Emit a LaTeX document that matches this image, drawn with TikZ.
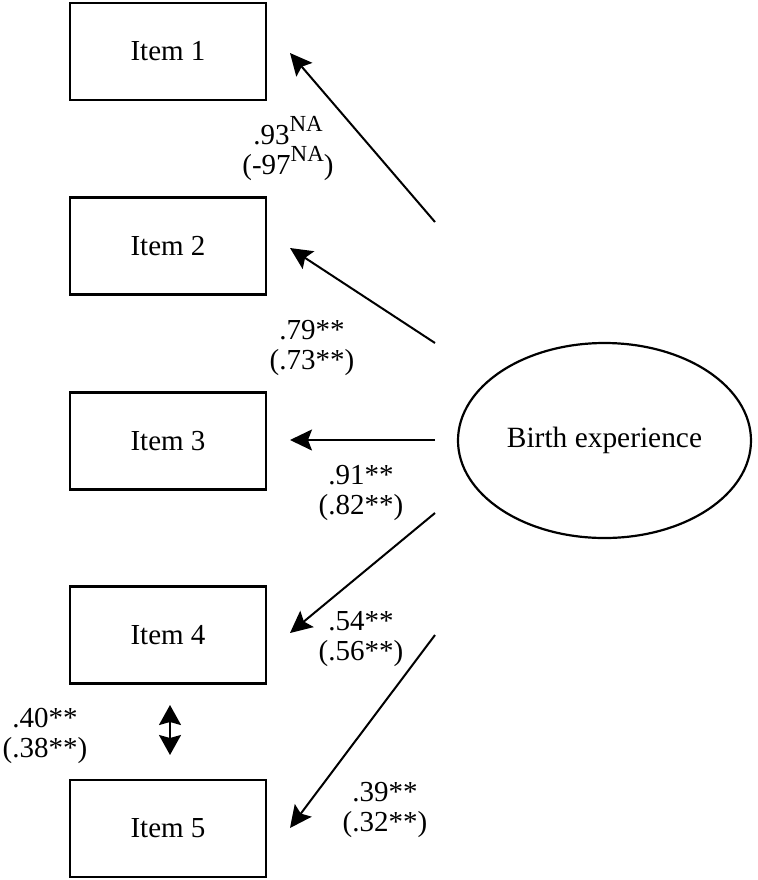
\documentclass[tikz,border=0pt]{standalone}
\usepackage{fontspec}
\setmainfont{Liberation Serif}
\usetikzlibrary{arrows.meta,shapes.geometric}
\newcommand{\nasup}{\raisebox{0.42em}{\fontsize{11.5}{11.5}\selectfont NA}}
\begin{document}
\begin{tikzpicture}[x=0.5pt,y=-0.5pt,
  itembox/.style={draw,line width=1.2pt,minimum width=98pt,minimum height=48.5pt,inner sep=0pt,font=\fontsize{14.5}{15}\selectfont},
  latent/.style={draw,ellipse,line width=1.1pt,minimum width=146.5pt,minimum height=97.5pt,inner sep=0pt,font=\fontsize{14.7}{15}\selectfont},
  path/.style={line width=1pt,-{Stealth[length=11pt,width=10.5pt,inset=2pt]}},
  cov/.style={line width=1pt,{Stealth[length=10pt,width=11pt,inset=1.5pt]}-{Stealth[length=10pt,width=11pt,inset=1.5pt]}},
  lab/.style={align=center,anchor=base,inner sep=0pt,font=\fontsize{14.5}{15}\selectfont}]
\useasboundingbox (0,0) rectangle (758,880);
\node[itembox] (i1) at (168,51.5) {Item 1};
\node[itembox] (i2) at (168,246) {Item 2};
\node[itembox] (i3) at (168,441) {Item 3};
\node[itembox] (i4) at (168,635) {Item 4};
\node[itembox] (i5) at (168,828.5) {Item 5};
\node[latent] (be) at (604.5,440.5) {Birth experience};
\coordinate (s1) at (435,222);
\coordinate (s2) at (435,343);
\coordinate (s3) at (435,440);
\coordinate (s4) at (435,513);
\coordinate (s5) at (435,635);
\coordinate (t1) at (290,53);
\coordinate (t2) at (290,248);
\coordinate (t3) at (290,440);
\coordinate (t4) at (290,633);
\coordinate (t5) at (290,828);
\draw[path] (s1) -- (t1);
\draw[path] (s2) -- (t2);
\draw[path] (s3) -- (t3);
\draw[path] (s4) -- (t4);
\draw[path] (s5) -- (t5);
\coordinate (c1) at (170,705);
\coordinate (c2) at (170,755);
\draw[cov] (c1) -- (c2);
\node[lab] (l1) at (288,174) {.93\nasup\\(-97\nasup)};
\node[lab] (l2) at (312,369) {.79**\\(.73**)};
\node[lab] (l3) at (361,514) {.91**\\(.82**)};
\node[lab] (l4) at (361,660) {.54**\\(.56**)};
\node[lab] (l5) at (45,757) {.40**\\(.38**)};
\node[lab] (l6) at (385,831) {.39**\\(.32**)};
\end{tikzpicture}
\end{document}
